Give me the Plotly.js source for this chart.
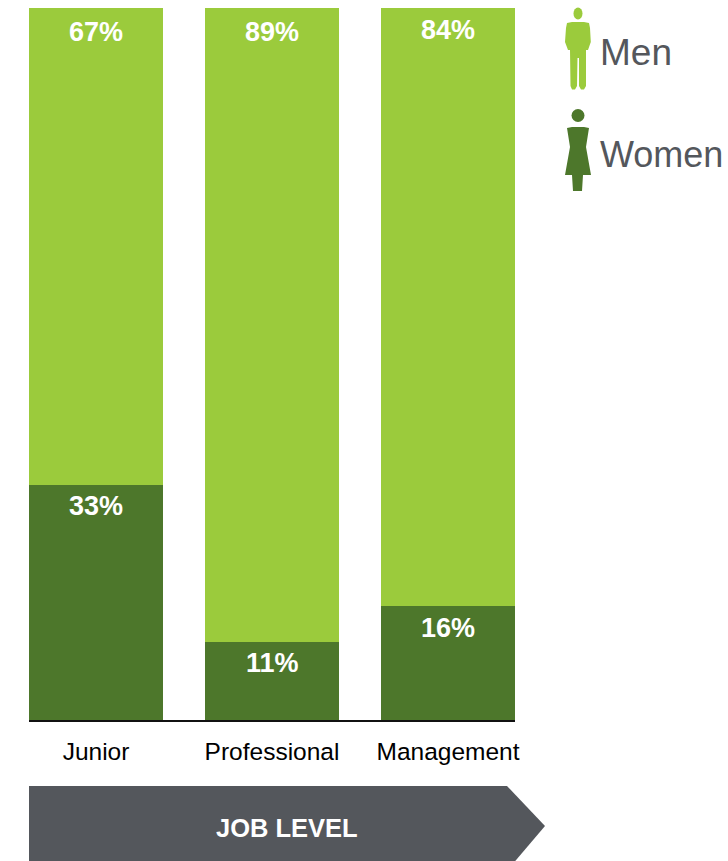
<!DOCTYPE html>
<html>
<head>
<meta charset="utf-8">
<script src="https://cdn.plot.ly/plotly-3.0.1.min.js"></script>
<style>html,body{margin:0;padding:0;background:#fff;overflow:hidden}</style>
</head>
<body>
<div id="chart" style="width:728px;height:861px"></div>
<script>
// Gender split by job level, in percent
const jobLevels = ['Junior', 'Professional', 'Management'];
const womenShare = [33, 11, 16];
const menShare = [67, 89, 84];
const seriesNames = ['Women', 'Men'];
const axisCaption = 'JOB LEVEL';

const FONT = '"Liberation Sans", Arial, sans-serif';
const LIGHT = '#9BCB3C', DARK = '#4D772B', SLATE = '#54575C';
const W = 728, H = 861;
const M = {l: 29, r: 213, t: 8, b: 141};

// Convert page pixels to paper coordinates for the decorations around the plot
const px = x => (x - M.l) / (W - M.l - M.r);
const py = y => (H - M.b - y) / (H - M.t - M.b);
const path = pts => 'M' + pts.map(p => px(p[0]) + ',' + py(p[1])).join('L') + 'Z';
const deco = (d, color) => ({type: 'path', xref: 'paper', yref: 'paper', path: d, fillcolor: color, line: {width: 0}, layer: 'above'});
const blob = (cx, cy, rx, ry, color) => ({type: 'circle', xref: 'paper', yref: 'paper',
  x0: px(cx - rx), x1: px(cx + rx), y0: py(cy + ry), y1: py(cy - ry), fillcolor: color, line: {width: 0}});

const manBody = path([[567,23],[572,22],[584,22],[589,23],[590,28],[590.8,42],[588,50],[586,50],[586,86],[584,89.5],[581,89.5],[579,86],[579,58],[577.5,58],[577,86],[575,89.5],[572,89.5],[570.5,86],[570,50],[568,50],[565,42],[566,28]]);
const womanBody = path([[567,128],[572,127],[584,127],[589,128],[586,147],[591,175],[583,175],[582,191],[573,191],[572,175],[565,175],[570,147]]);

const shapes = [
  deco(path([[29,786],[507,786],[545,826],[511,866],[29,866]]), SLATE),
  blob(578, 13.5, 4.5, 6, LIGHT),
  deco(manBody, LIGHT),
  blob(578, 115.5, 6.5, 6.5, DARK),
  deco(womanBody, DARK)
];

const segmentLabel = (i, value, top, shift) => ({
  x: jobLevels[i], y: top, xref: 'x', yref: 'y', text: value + '%', showarrow: false,
  yanchor: 'middle', yshift: shift, font: {family: FONT, size: 27, color: '#fff', weight: 700}
});
const womenShift = [-21, -21, -22];
const menShift = [-24, -24, -22];
const annotations = [];
jobLevels.forEach((_, i) => {
  annotations.push(segmentLabel(i, womenShare[i], womenShare[i], womenShift[i]));
  annotations.push(segmentLabel(i, menShare[i], womenShare[i] + menShare[i], menShift[i]));
});
const pageText = (x, y, text, anchor, size, color, weight) => ({
  xref: 'paper', yref: 'paper', x: px(x), y: py(y), text, showarrow: false,
  xanchor: anchor, yanchor: 'middle', font: {family: FONT, size, color, weight}
});
annotations.push(pageText(598, 52, seriesNames[1], 'left', 37, SLATE, 400));
annotations.push(pageText(598, 154, seriesNames[0], 'left', 36, SLATE, 400));
annotations.push(pageText(287, 828, axisCaption, 'center', 25.5, '#fff', 700));

const traces = [
  {type: 'bar', name: seriesNames[0], x: jobLevels, y: womenShare, marker: {color: DARK, line: {width: 0}}},
  {type: 'bar', name: seriesNames[1], x: jobLevels, y: menShare, marker: {color: LIGHT, line: {width: 0}}}
];

const layout = {
  width: W, height: H, margin: M, barmode: 'stack', bargap: 0.239,
  showlegend: false, paper_bgcolor: '#fff', plot_bgcolor: '#fff',
  xaxis: {type: 'category', range: [-0.3807, 2.3807], fixedrange: true, showgrid: false, zeroline: false,
    showline: true, linecolor: '#111', linewidth: 1.5, ticks: '', ticklabelstandoff: 9,
    tickfont: {family: FONT, size: 24.5, color: '#000'}},
  yaxis: {range: [0, 100], visible: false, fixedrange: true},
  shapes, annotations
};

Plotly.newPlot('chart', traces, layout, {displayModeBar: false, staticPlot: true});
</script>
</body>
</html>
